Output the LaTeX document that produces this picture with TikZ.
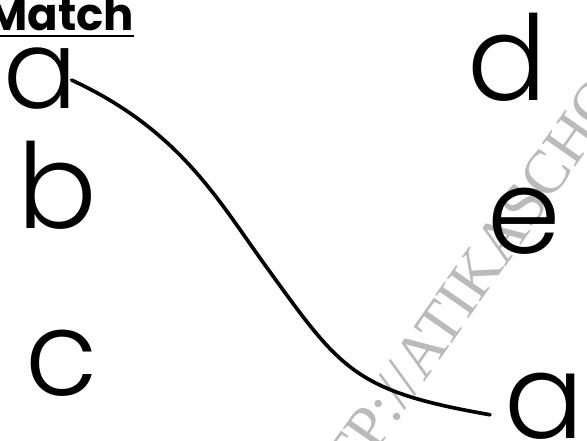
\documentclass[tikz,border=0pt]{standalone}
\usepackage{fontspec}
\newfontfamily\handfont{Poppins Light}
\newfontfamily\titlefont{Poppins Bold}
\newfontfamily\markfont{Liberation Serif}

\begin{document}
\begin{tikzpicture}[
    x = 0.025cm, y = -0.025cm,
      letter/.style={font=\handfont\fontsize{84}{84}\selectfont, inner sep=0pt, anchor=base west},
      title/.style={font=\titlefont\fontsize{32}{32}\selectfont, inner sep=0pt, anchor=base west},
      rule/.style={line width=2.1pt, color=black},
      watermark/.style={font=\markfont\fontsize{44}{44}\selectfont, color=black!27, inner sep=0pt, anchor=base west, rotate=55},
      link/.style={line width=2.6pt, line cap=round, color=black}
  ]
      \useasboundingbox (0,0) rectangle (587,441);

      % Watermark
      \begin{scope}
        \clip (0,0) rectangle (587,441);
        \node (mark) at (306,552) [watermark] {HTTP://ATIKASCHOOL.ORG};
      \end{scope}

      % Title
      \node (match) at (-14,30) [title] {Match};
      \draw[rule] ([yshift=-0.15cm]match.base west) -- ([yshift=-0.15cm]match.base east);

      % Left column
      \node (la) at (3,108) [letter, font=\handfont\fontsize{78}{78}\selectfont] {a};
      \node (lb) at (17,228) [letter] {b};
      \node (lc) at (25,395) [letter] {c};

      % Right column
      \node (rd) at (467,100) [letter] {d};
      \node (re) at (487,253) [letter] {e};
      \node (ra) at (504,438) [letter] {a};

      % Answer line
      \coordinate (bend) at (265,265);
      \draw[link] ([shift={(-6,2)}]la.east) .. controls +(108,50) and +(-47,-65) .. (bend)
                  .. controls +(76,105) and +(-137,-24) .. ([shift={(-14,9)}]ra.west);
  \end{tikzpicture}
\end{document}
